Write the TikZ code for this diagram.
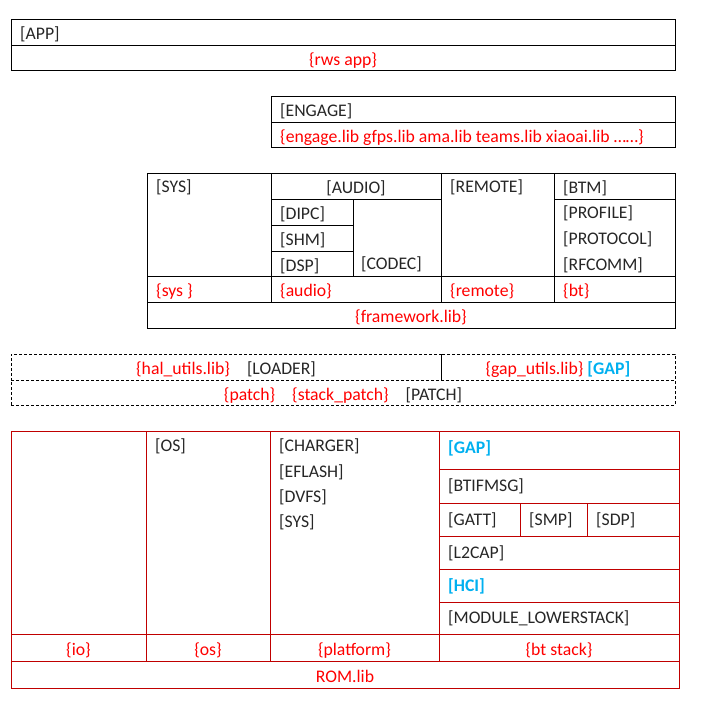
\documentclass[tikz,border=0pt]{standalone}
\usepackage{fontspec}
\setmainfont{Carlito}
\usetikzlibrary{positioning}
\definecolor{libred}{HTML}{FF0000}
\definecolor{romline}{HTML}{C00000}
\definecolor{gapblue}{HTML}{00B0F0}
\definecolor{ink}{HTML}{262626}
\newcommand{\cellfont}{\fontsize{17.7}{21}\selectfont}
\tikzset{
  % table cells
  cell/.style={rectangle, draw=black, line width=0.8pt, inner sep=0pt, outer sep=0pt, anchor=north west, font=\cellfont, text=ink, text height=17pt, text depth=2pt},
  romcell/.style={cell, draw=romline},
  patchcell/.style={cell, dash pattern=on 3pt off 2pt},
  % texts
  txt/.style={inner sep=0pt, font=\cellfont, text=ink, text height=17pt, text depth=2pt},
  lib/.style={text=libred},
  hl/.style={text=gapblue, font=\cellfont\bfseries},
}

\begin{document}
\begin{tikzpicture}[x=1pt, y=-1pt]
    \useasboundingbox (0,0) rectangle (719,717);

    % App
    \node[cell, minimum width=664pt, minimum height=26pt] (app) at (11,19) {};
    \node[cell, lib, minimum width=664pt, minimum height=25pt] (rwsapp) at (11,45) {\{rws app\}};
    \node[txt, right=9pt of app.west] (apptxt) {[APP]};

    % Engage
    \node[cell, minimum width=404pt, minimum height=26pt] (engage) at (271,96) {};
    \node[cell, minimum width=404pt, minimum height=25pt] (englib) at (271,122) {};
    \node[txt, right=9pt of engage.west] (engtxt) {[ENGAGE]};
    \node[txt, lib, right=9pt of englib.west] (englibtxt) {\{engage.lib gfps.lib ama.lib teams.lib xiaoai.lib ……\}};

    % Framework
    \node[cell, minimum width=124pt, minimum height=103pt] (sys) at (147,173) {};
    \node[cell, minimum width=170pt, minimum height=26pt] (audio) at (271,173) {[AUDIO]};
    \node[cell, minimum width=82pt, minimum height=26pt] (dipc) at (271,199) {};
    \node[cell, minimum width=82pt, minimum height=26pt] (shm) at (271,225) {};
    \node[cell, minimum width=82pt, minimum height=25pt] (dsp) at (271,251) {};
    \node[cell, minimum width=88pt, minimum height=77pt] (codec) at (353,199) {};
    \node[cell, minimum width=113pt, minimum height=103pt] (remote) at (441,173) {};
    \node[cell, minimum width=121pt, minimum height=26pt] (btm) at (554,173) {};
    \node[cell, minimum width=121pt, minimum height=77pt] (profile) at (554,199) {};
    \node[cell, minimum width=124pt, minimum height=26pt] (sysred) at (147,276) {};
    \node[cell, minimum width=170pt, minimum height=26pt] (audiored) at (271,276) {};
    \node[cell, minimum width=113pt, minimum height=26pt] (remotered) at (441,276) {};
    \node[cell, minimum width=121pt, minimum height=26pt] (btred) at (554,276) {};
    \node[cell, lib, minimum width=528pt, minimum height=26pt] (fwlib) at (147,302) {\{framework.lib\}};

    \node[txt, below right=2.5pt and 9pt of sys.north west] (systxt) {[SYS]};
    \node[txt, right=9pt of dipc.west] (dipctxt) {[DIPC]};
    \node[txt, right=9pt of shm.west] (shmtxt) {[SHM]};
    \node[txt, right=9pt of dsp.west] (dsptxt) {[DSP]};
    \node[txt, above right=4.5pt and 8pt of codec.south west] (codectxt) {[CODEC]};
    \node[txt, below right=2.5pt and 9pt of remote.north west] (remotetxt) {[REMOTE]};
    \node[txt, right=9pt of btm.west] (btmtxt) {[BTM]};
    \node[txt, below right=2.5pt and 9pt of profile.north west] (proftxt) {[PROFILE]};
    \node[txt, below=6.7pt of proftxt.south west, anchor=north west] (prottxt) {[PROTOCOL]};
    \node[txt, below=6.7pt of prottxt.south west, anchor=north west] (rfctxt) {[RFCOMM]};
    \node[txt, lib, right=9pt of sysred.west] (sysredtxt) {\{sys \}};
    \node[txt, lib, right=9pt of audiored.west] (audioredtxt) {\{audio\}};
    \node[txt, lib, right=9pt of remotered.west] (remoteredtxt) {\{remote\}};
    \node[txt, lib, right=9pt of btred.west] (btredtxt) {\{bt\}};

    % Loader / patch
    \node[patchcell, minimum width=430pt, minimum height=26pt] (loader) at (11,354)
      {\textcolor{libred}{\{hal\_utils.lib\}}\hspace{17pt}[LOADER]};
    \node[patchcell, minimum width=234pt, minimum height=26pt] (gaputil) at (441,354)
      {\textcolor{libred}{\{gap\_utils.lib\}} \textcolor{gapblue}{\bfseries [GAP]}};
    \node[patchcell, minimum width=664pt, minimum height=25pt] (patch) at (11,380)
      {\textcolor{libred}{\{patch\}}\hspace{17pt}\textcolor{libred}{\{stack\_patch\}}\hspace{17pt}[PATCH]};

    % ROM
    \node[romcell, minimum width=135pt, minimum height=203pt] (io) at (11,431) {};
    \node[romcell, minimum width=124pt, minimum height=203pt] (os) at (146,431) {};
    \node[romcell, minimum width=169pt, minimum height=203pt] (plat) at (270,431) {};
    \node[romcell, minimum width=240pt, minimum height=38pt] (gap) at (439,431) {};
    \node[romcell, minimum width=240pt, minimum height=34pt] (btif) at (439,469) {};
    \node[romcell, minimum width=81pt, minimum height=33pt] (gatt) at (439,503) {};
    \node[romcell, minimum width=67pt, minimum height=33pt] (smp) at (520,503) {};
    \node[romcell, minimum width=92pt, minimum height=33pt] (sdp) at (587,503) {};
    \node[romcell, minimum width=240pt, minimum height=33pt] (l2cap) at (439,536) {};
    \node[romcell, minimum width=240pt, minimum height=33pt] (hci) at (439,569) {};
    \node[romcell, minimum width=240pt, minimum height=32pt] (lower) at (439,602) {};
    \node[romcell, lib, minimum width=135pt, minimum height=27pt] (ior) at (11,634) {\{io\}};
    \node[romcell, lib, minimum width=124pt, minimum height=27pt] (osr) at (146,634) {\{os\}};
    \node[romcell, lib, minimum width=169pt, minimum height=27pt] (platr) at (270,634) {\{platform\}};
    \node[romcell, lib, minimum width=240pt, minimum height=27pt] (btstack) at (439,634) {\{bt stack\}};
    \node[romcell, lib, minimum width=668pt, minimum height=27pt] (rom) at (11,661) {ROM.lib};

    \node[txt, below right=3.5pt and 9pt of os.north west] (ostxt) {[OS]};
    \node[txt, below right=3.5pt and 9pt of plat.north west] (chgtxt) {[CHARGER]};
    \node[txt, below=6pt of chgtxt.south west, anchor=north west] (eflashtxt) {[EFLASH]};
    \node[txt, below=6pt of eflashtxt.south west, anchor=north west] (dvfstxt) {[DVFS]};
    \node[txt, below=6pt of dvfstxt.south west, anchor=north west] (psystxt) {[SYS]};
    \node[txt, hl, below right=5pt and 9pt of gap.north west] (gaptxt) {[GAP]};
    \node[txt, below right=5pt and 9pt of btif.north west] (btiftxt) {[BTIFMSG]};
    \node[txt, below right=5pt and 9pt of gatt.north west] (gatttxt) {[GATT]};
    \node[txt, below right=5pt and 9pt of smp.north west] (smptxt) {[SMP]};
    \node[txt, below right=5pt and 9pt of sdp.north west] (sdptxt) {[SDP]};
    \node[txt, below right=5pt and 9pt of l2cap.north west] (l2captxt) {[L2CAP]};
    \node[txt, hl, below right=5pt and 9pt of hci.north west] (hcitxt) {[HCI]};
    \node[txt, below right=4.5pt and 9pt of lower.north west] (lowertxt) {[MODULE\_LOWERSTACK]};
\end{tikzpicture}
\end{document}
